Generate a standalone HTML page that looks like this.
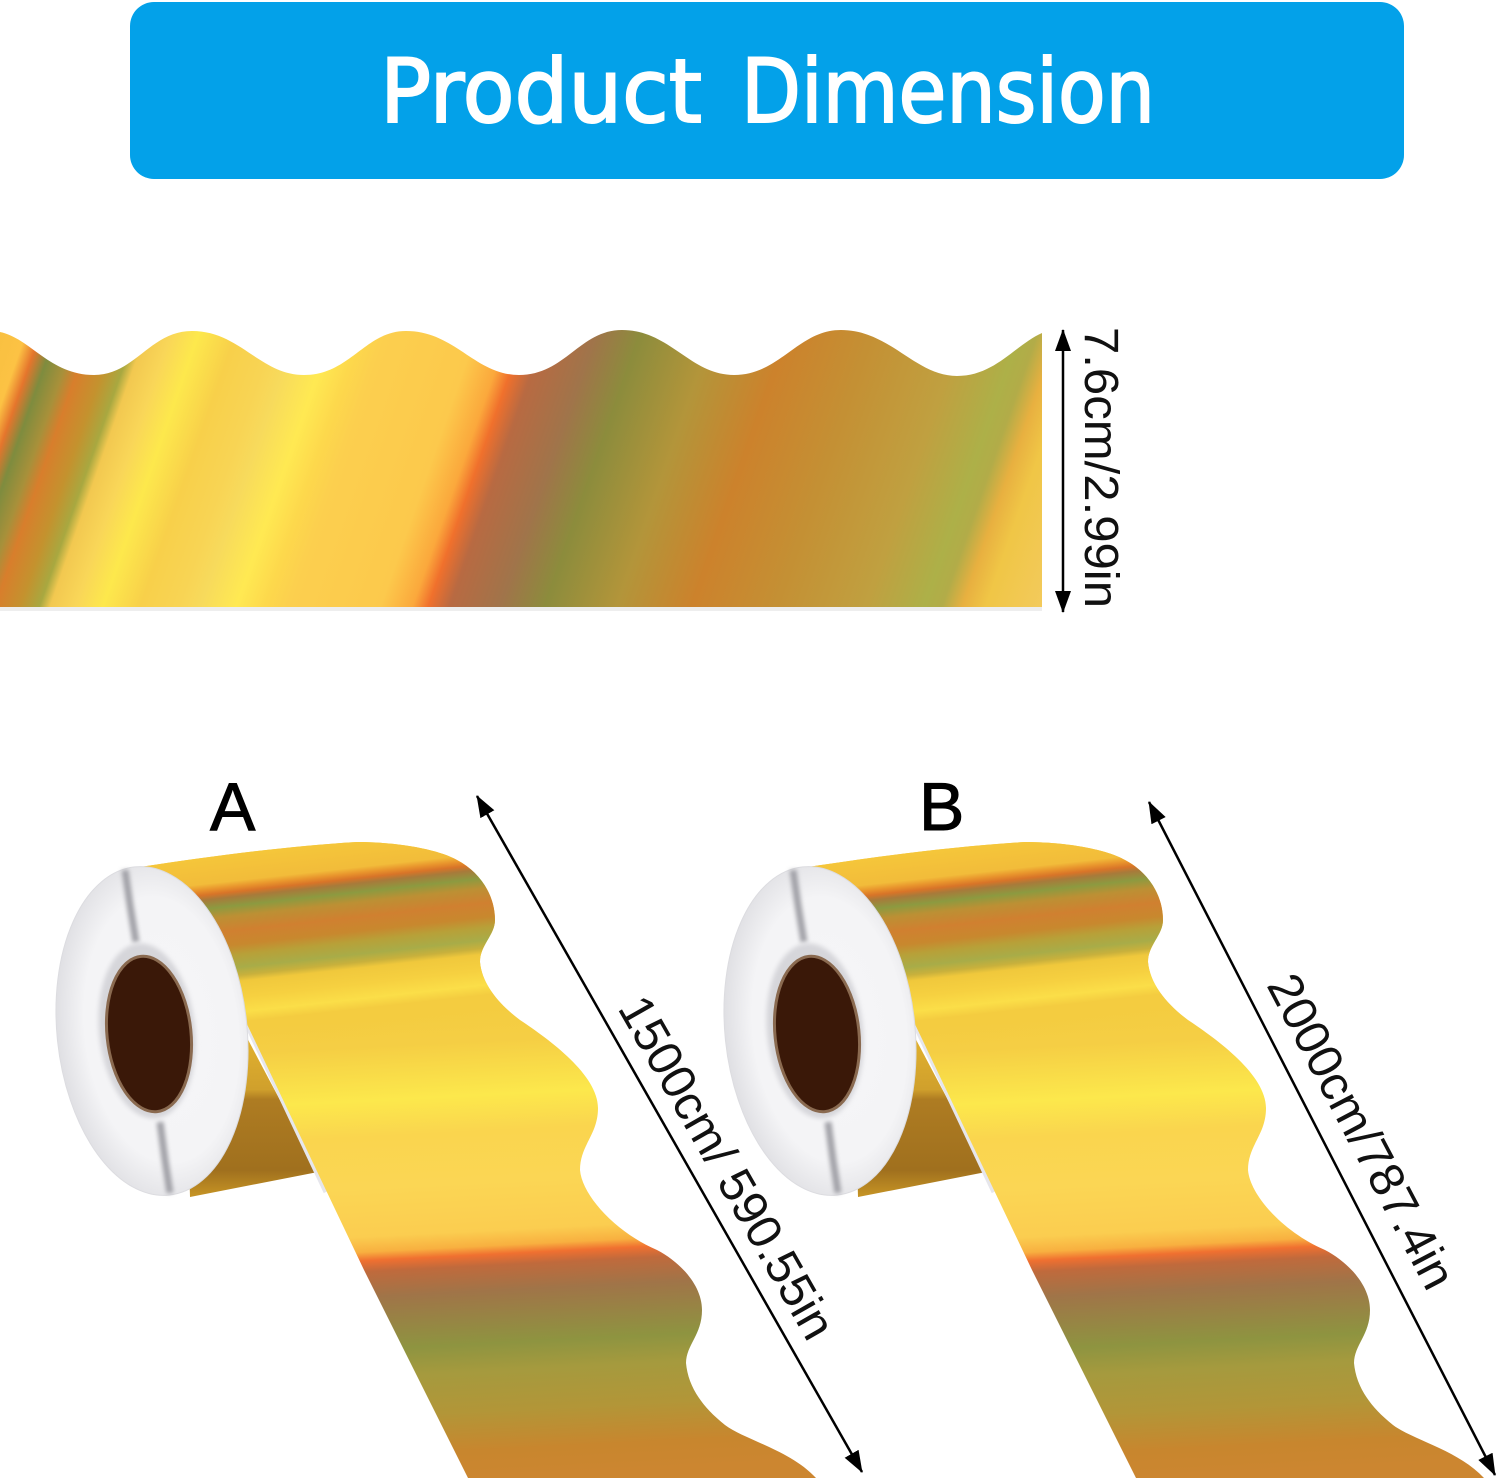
<!DOCTYPE html>
<html><head><meta charset="utf-8"><style>html,body{margin:0;padding:0;background:#fff}svg{display:block}</style></head><body>
<svg width="1500" height="1478" viewBox="0 0 1500 1478" xmlns="http://www.w3.org/2000/svg" font-family="'Liberation Sans','DejaVu Sans',sans-serif">
<defs>
<linearGradient id="s" gradientUnits="userSpaceOnUse" x1="-100" y1="0" x2="1100" y2="0" gradientTransform="translate(0 607) skewX(-19.3) translate(0 -607)">
<stop offset="0" stop-color="#f8c040"/><stop offset=".025" stop-color="#fcc244"/><stop offset=".037" stop-color="#e5752c"/><stop offset=".05" stop-color="#7e8c3e"/><stop offset=".067" stop-color="#a8903a"/><stop offset=".079" stop-color="#d87e2c"/><stop offset=".1" stop-color="#c4922e"/><stop offset=".116" stop-color="#a8a840"/><stop offset=".125" stop-color="#f2c850"/><stop offset=".146" stop-color="#f9d658"/><stop offset=".169" stop-color="#fde84c"/><stop offset=".2" stop-color="#f8d04a"/><stop offset=".232" stop-color="#f8d454"/><stop offset=".25" stop-color="#f7da5c"/><stop offset=".28" stop-color="#ffe952"/><stop offset=".304" stop-color="#fdd84c"/><stop offset=".325" stop-color="#fccf4e"/><stop offset=".4" stop-color="#fcc94c"/><stop offset=".427" stop-color="#fba83c"/><stop offset=".44" stop-color="#f0702c"/><stop offset=".458" stop-color="#b86a42"/><stop offset=".5" stop-color="#a0744a"/><stop offset=".5375" stop-color="#8c8c3c"/><stop offset=".5975" stop-color="#b3953a"/><stop offset=".66" stop-color="#cc822c"/><stop offset=".73" stop-color="#c49034"/><stop offset=".805" stop-color="#c0a040"/><stop offset=".853" stop-color="#adb048"/><stop offset=".868" stop-color="#b2ac48"/><stop offset=".885" stop-color="#e8b040"/><stop offset=".905" stop-color="#f0c646"/><stop offset=".952" stop-color="#f3ca5c"/><stop offset="1" stop-color="#f3ca5c"/>
</linearGradient>
<linearGradient id="ga" gradientUnits="userSpaceOnUse" x1="0" y1="840" x2="0" y2="1040" gradientTransform="translate(350 0) skewY(-6.3) translate(-350 0)">
<stop offset=".01" stop-color="#f5c63a"/><stop offset=".14" stop-color="#f2bc3a"/><stop offset=".17" stop-color="#e8932c"/><stop offset=".195" stop-color="#d87428"/><stop offset=".22" stop-color="#a87a3a"/><stop offset=".265" stop-color="#8c9a40"/><stop offset=".315" stop-color="#bc9034"/><stop offset=".39" stop-color="#d08030"/><stop offset=".46" stop-color="#c8882e"/><stop offset=".51" stop-color="#b8a038"/><stop offset=".575" stop-color="#a8ac48"/><stop offset=".615" stop-color="#c8b03c"/><stop offset=".645" stop-color="#f0c83c"/><stop offset=".725" stop-color="#f6d040"/><stop offset=".8" stop-color="#fbde48"/><stop offset=".85" stop-color="#f4cc40"/><stop offset="1" stop-color="#f4cc40" stop-opacity="0"/>
</linearGradient>
<linearGradient id="gb" gradientUnits="userSpaceOnUse" x1="0" y1="1000" x2="0" y2="1478" gradientTransform="translate(500 0) skewY(-2.9) translate(-500 0)">
<stop offset="0" stop-color="#f4cc40"/><stop offset=".084" stop-color="#f5ce44"/><stop offset=".197" stop-color="#fce84c"/><stop offset=".272" stop-color="#fad54e"/><stop offset=".377" stop-color="#fbd654"/><stop offset=".481" stop-color="#fbcd50"/><stop offset=".513" stop-color="#f8b040"/><stop offset=".531" stop-color="#f07030"/><stop offset=".554" stop-color="#c06a3c"/><stop offset=".607" stop-color="#a07448"/><stop offset=".718" stop-color="#8e9440"/><stop offset=".774" stop-color="#a59a3e"/><stop offset=".858" stop-color="#b29638"/><stop offset=".941" stop-color="#c8862e"/><stop offset="1" stop-color="#cc8630"/>
</linearGradient>
<linearGradient id="u" gradientUnits="userSpaceOnUse" x1="0" y1="1030" x2="0" y2="1195">
<stop offset="0" stop-color="#e4b430"/><stop offset=".36" stop-color="#d0a02c"/><stop offset=".42" stop-color="#ae7c22"/><stop offset=".85" stop-color="#a0701e"/><stop offset="1" stop-color="#c49224"/>
</linearGradient>
<radialGradient id="d" cx=".55" cy=".5" r=".56"><stop offset="0" stop-color="#f6f6f8"/><stop offset=".72" stop-color="#f4f4f6"/><stop offset="1" stop-color="#dedee2"/></radialGradient>
<filter id="b1" x="-100%" y="-20%" width="300%" height="140%"><feGaussianBlur stdDeviation="2"/></filter>
<filter id="b2" x="-20%" y="-20%" width="140%" height="140%"><feGaussianBlur stdDeviation="2.500"/></filter>
<marker id="a" markerWidth="22" markerHeight="16" refX="21" refY="8" orient="auto-start-reverse" markerUnits="userSpaceOnUse"><path d="M0 0L22 8L0 16Z" fill="#000"/></marker>
<g id="roll">
<path d="M235 1015L318 1172L190 1197L185 1015Z" fill="url(#u)"/>
<path d="M240 1010L326 1192" stroke="#e6e6ec" stroke-width="5" fill="none"/>
<path d="M140 867C220 855 290 846 357 842C400 842 440 850 457 860C480 872 495 895 495 920C495 935 480 945 480 962C482 985 500 1005 520 1020C550 1040 598 1075 598 1108C598 1135 580 1145 580 1170C582 1195 615 1232 657 1250C680 1262 702 1285 702 1310C702 1335 686 1345 686 1363C688 1385 700 1405 725 1425C745 1440 790 1450 816 1478L468 1478L364 1270L245 1020Z" fill="url(#gb)"/>
<path d="M140 867C220 855 290 846 357 842C400 842 440 850 457 860C480 872 495 895 495 920C495 935 480 945 480 962C482 985 500 1005 520 1020C550 1040 598 1075 598 1108L598 1110L290 1110L245 1020Z" fill="url(#ga)"/>
<ellipse cx="152" cy="1031" rx="95" ry="165" transform="rotate(-6 152 1031)" fill="url(#d)" stroke="#dcdce0" stroke-width="1"/>
<path d="M125 870L130 905L136 942" stroke="#a2a2a8" stroke-width="7" fill="none" filter="url(#b1)"/>
<path d="M160 1122L165 1160L170 1193" stroke="#a2a2a8" stroke-width="7" fill="none" filter="url(#b1)"/>
<ellipse cx="147" cy="1031" rx="48" ry="88" transform="rotate(-6 147 1031)" fill="#d6d6da" filter="url(#b2)"/>
<ellipse cx="149" cy="1034" rx="42" ry="78" transform="rotate(-6 149 1034)" fill="#3a1808" stroke="#8a6a50" stroke-width="3"/>
</g>
</defs>
<rect width="1500" height="1478" fill="#fff"/>
<rect x="130" y="2" width="1274" height="177" rx="24" fill="#03a1e9"/>
<g font-family="'DejaVu Sans',sans-serif" font-size="88" fill="#fff" stroke="#fff" stroke-width="2">
<text x="380" y="122" textLength="322" lengthAdjust="spacingAndGlyphs">Product</text>
<text x="741" y="122" textLength="414" lengthAdjust="spacingAndGlyphs">Dimension</text>
</g>
<rect x="0" y="607" width="1042" height="4" fill="#eeeeee"/>
<path d="M0 332C30 338 50 375 94 375C135 375 150 331 192 331C240 331 260 375 304 375C350 375 365 331 406 331C455 331 475 375 519 375C565 375 580 330 622 330C670 330 690 375 734 375C780 375 798 330 841 330C890 330 915 376 957 376C995 376 1015 345 1042 333L1042 607L0 607Z" fill="url(#s)"/>
<line x1="1063" y1="330" x2="1063" y2="612" stroke="#000" stroke-width="2.500" marker-start="url(#a)" marker-end="url(#a)"/>
<text transform="translate(1085 327) rotate(90)" font-size="48" fill="#111" textLength="281" lengthAdjust="spacingAndGlyphs">7.6cm/2.99in</text>
<use href="#roll"/>
<use href="#roll" transform="translate(668 0)"/>
<text x="210" y="830" font-size="68" fill="#000" stroke="#000" stroke-width="1">A</text>
<text x="919" y="830" font-size="68" fill="#000" stroke="#000" stroke-width="1">B</text>
<line x1="477" y1="796" x2="862" y2="1472" stroke="#000" stroke-width="2.500" marker-start="url(#a)" marker-end="url(#a)"/>
<line x1="1149" y1="802" x2="1495" y2="1475" stroke="#000" stroke-width="2.500" marker-start="url(#a)" marker-end="url(#a)"/>
<text transform="translate(617 1008) rotate(60.300)" font-size="48.500" fill="#111" textLength="386" lengthAdjust="spacingAndGlyphs">1500cm/ 590.55in</text>
<text transform="translate(1266 985) rotate(62.300)" font-size="48.500" fill="#111" textLength="348" lengthAdjust="spacingAndGlyphs">2000cm/787.4in</text>
</svg>
</body></html>
